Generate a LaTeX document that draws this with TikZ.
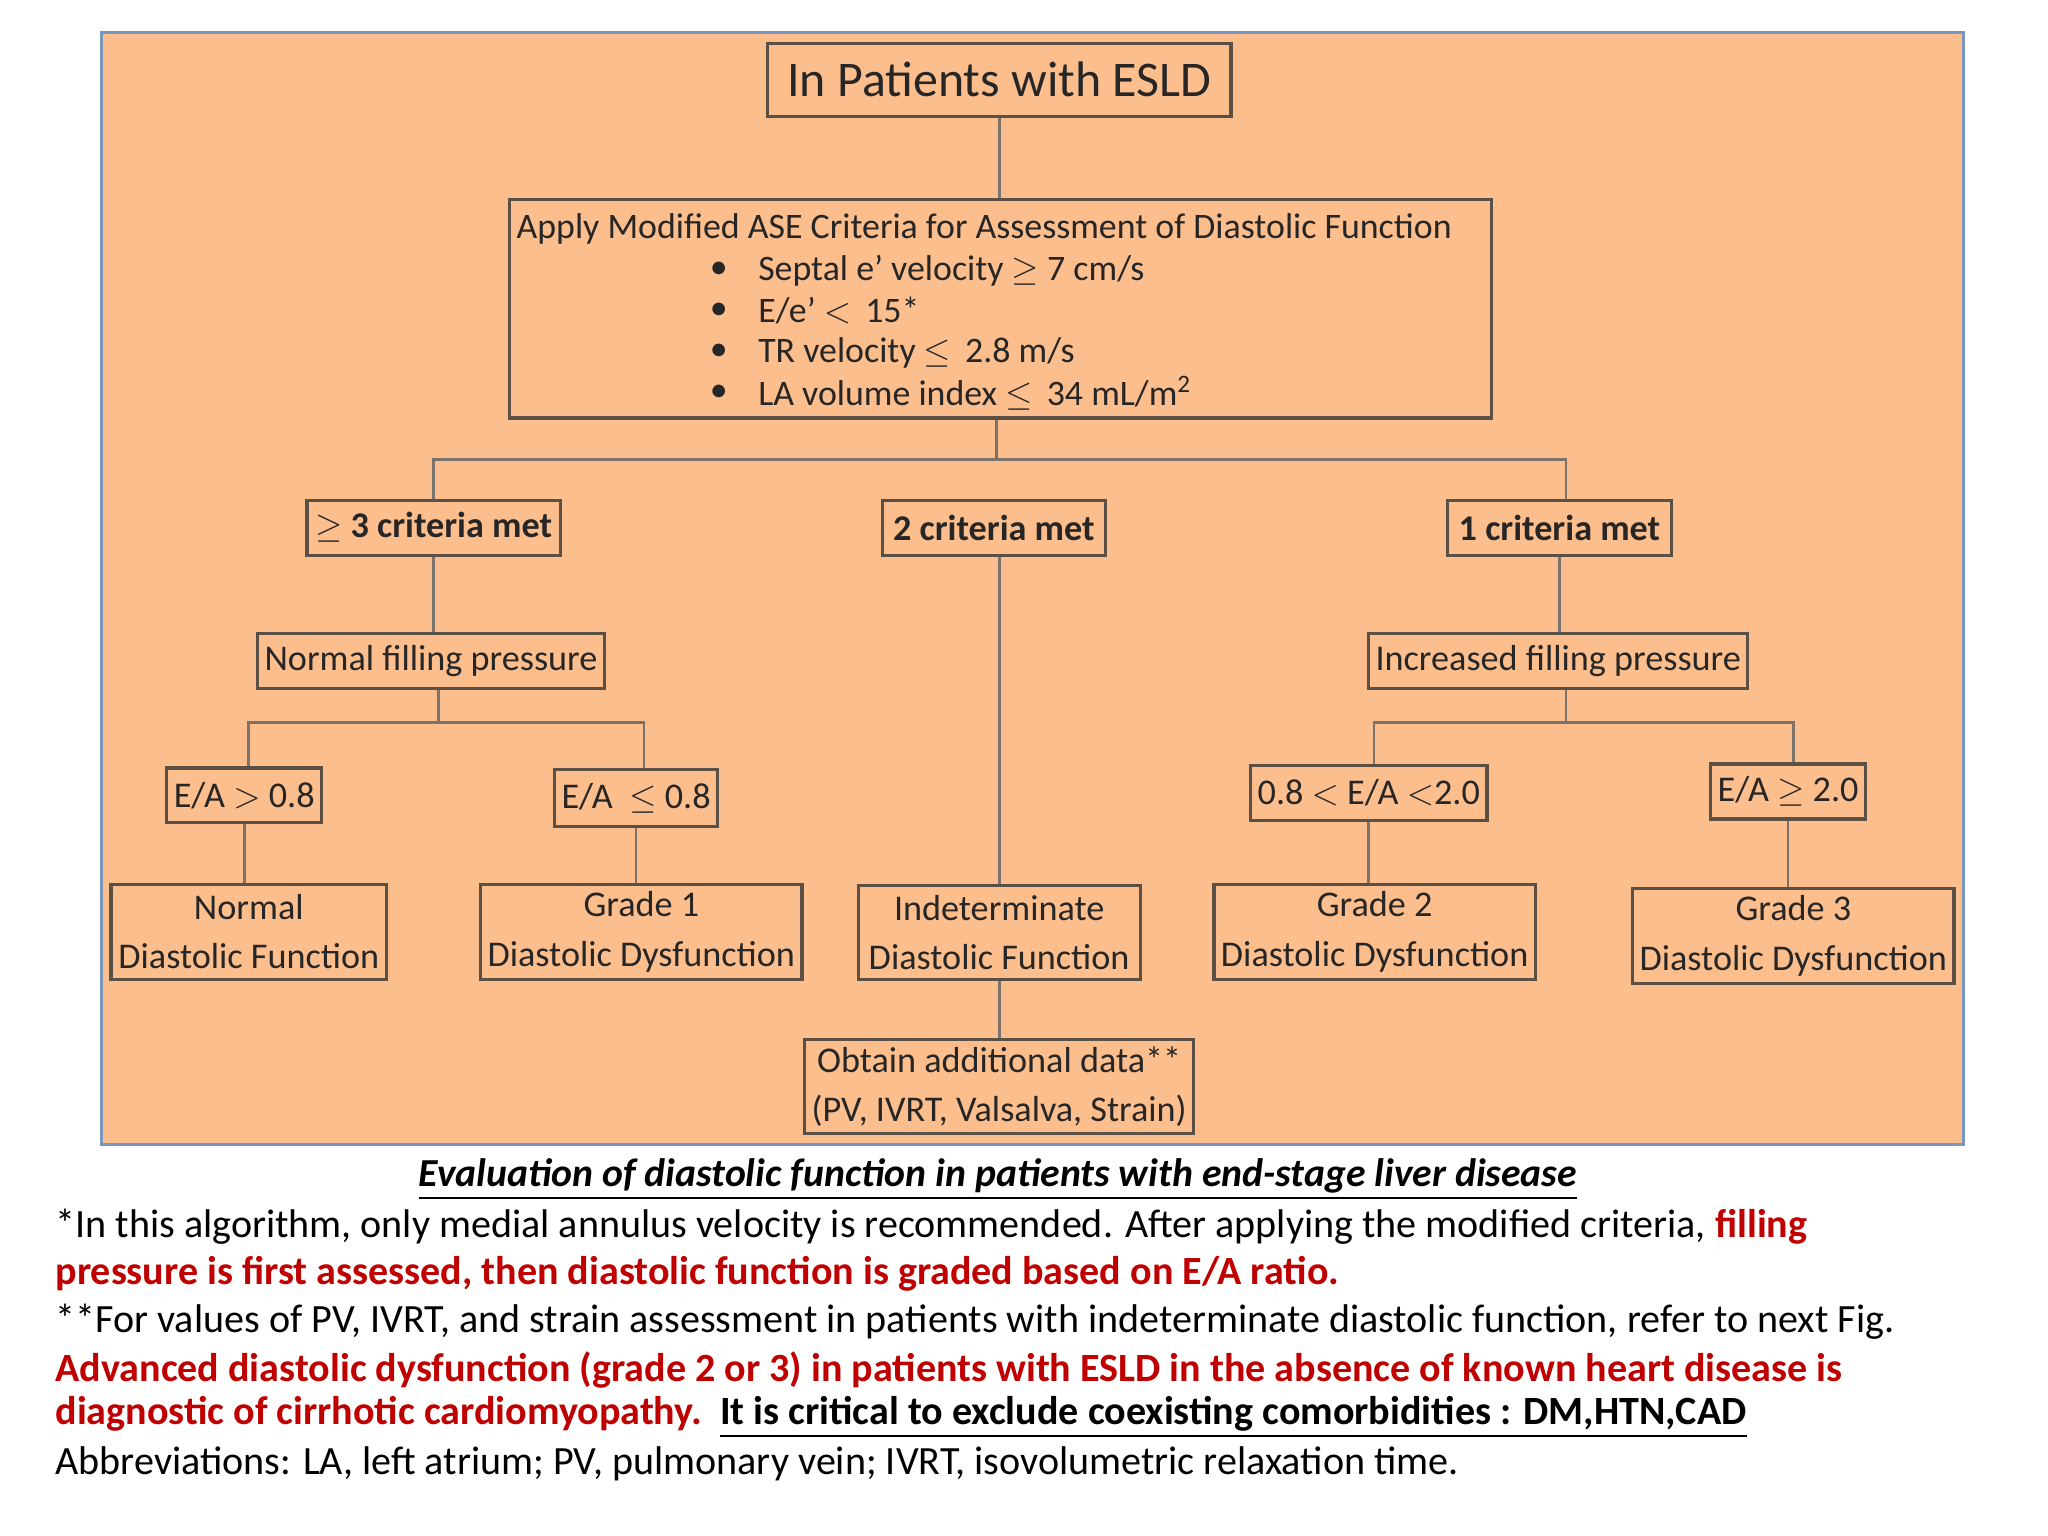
\documentclass[tikz,border=0pt]{standalone}
\usepackage{fontspec}
\setmainfont{Carlito}
\usetikzlibrary{calc}
\definecolor{peach}{RGB}{252,190,140}
\definecolor{frame}{RGB}{120,150,190}
\definecolor{boxline}{RGB}{90,80,70}
\definecolor{darkred}{RGB}{192,0,0}
\newcommand\pxl[1]{#1*0.01306cm}
\begin{document}
\begin{tikzpicture}[x=0.01306cm,y=-0.01306cm,
  box/.style={draw=boxline,line width=0.9pt,inner sep=2pt,align=center,font=\fontsize{10.3}{14}\selectfont,text=black!85},
  crit/.style={box,font=\bfseries\fontsize{10.3}{14}\selectfont},
  conn/.style={draw=boxline!80,line width=0.8pt},
  note/.style={anchor=west,inner sep=0pt,font=\fontsize{11.4}{14}\selectfont},
  asetxt/.style={anchor=west,inner sep=0pt,font=\fontsize{10.2}{13}\selectfont,text=black!85}]
\useasboundingbox (0,0) rectangle (1568,1176);
\fill[white] (0,0) rectangle (1568,1176);
\draw[frame,fill=peach,line width=0.8pt] (78,25) rectangle (1503,876);

\node[box,minimum width=\pxl{355},minimum height=\pxl{56},font=\fontsize{14.2}{17}\selectfont] (top) at (765,61) {In Patients with ESLD};
\node[box,minimum width=\pxl{752},minimum height=\pxl{167}] (ase) at (766,236.5) {};
\node[asetxt] (aseh) at (395,175) {Apply Modified ASE Criteria for Assessment of Diastolic Function};
\foreach \yy/\tt [count=\i] in {207/{Septal e’ velocity $\geq$ 7 cm/s},238/{E/e’ $<$ \,15*},270/{TR velocity $\leq$\ \,2.8 m/s},301/{LA volume index $\leq$\ \,34 mL/m\textsuperscript{2}}}{
  \node[asetxt] (b\i) at (543,\yy) {\textbullet};
  \node[asetxt] (bt\i) at (580,\yy) {\tt};
}

\node[crit,minimum width=\pxl{194},minimum height=\pxl{42}] (c3) at (332,404) {$\geq$ 3 criteria met};
\node[crit,minimum width=\pxl{171},minimum height=\pxl{42}] (c2) at (761,404) {2 criteria met};
\node[crit,minimum width=\pxl{172},minimum height=\pxl{42}] (c1) at (1194,404) {1 criteria met};

\node[box,minimum width=\pxl{265},minimum height=\pxl{42}] (nfp) at (330,506) {Normal filling pressure};
\node[box,minimum width=\pxl{290},minimum height=\pxl{42}] (ifp) at (1193,506) {Increased filling pressure};

\node[box,minimum width=\pxl{113},minimum height=\pxl{42}] (ea1) at (187,609) {E/A $>$ 0.8};
\node[box,minimum width=\pxl{120},minimum height=\pxl{44}] (ea2) at (487,611) {E/A \ $\leq$ 0.8};
\node[box,minimum width=\pxl{167},minimum height=\pxl{42}] (ea3) at (1048,607) {0.8 $<$ E/A $<$2.0};
\node[box,minimum width=\pxl{115},minimum height=\pxl{42}] (ea4) at (1369,606) {E/A $\geq$ 2.0};

\node[box,minimum width=\pxl{211},minimum height=\pxl{73}] (g0) at (190.5,713.5) {Normal\\Diastolic Function};
\node[box,minimum width=\pxl{244},minimum height=\pxl{73}] (g1) at (491,713.5) {Grade 1\\Diastolic Dysfunction};
\node[box,minimum width=\pxl{216},minimum height=\pxl{72}] (ind) at (765,714) {Indeterminate\\Diastolic Function};
\node[box,minimum width=\pxl{245},minimum height=\pxl{73}] (g2) at (1052.5,713.5) {Grade 2\\Diastolic Dysfunction};
\node[box,minimum width=\pxl{246},minimum height=\pxl{73}] (g3) at (1373,716.5) {Grade 3\\Diastolic Dysfunction};
\node[box,minimum width=\pxl{296},minimum height=\pxl{72}] (obt) at (765,832) {Obtain additional data**\\(PV, IVRT, Valsalva, Strain)};

% connectors
\coordinate (j1) at (763,352);
\coordinate (jl) at (336,553);
\coordinate (jr) at (1199,553);
\draw[conn] (top) -- (ase.north -| top);
\draw[conn] (ase.south -| j1) -- (j1);
\draw[conn] (j1) -| (c3.north);
\draw[conn] (j1) -| ([xshift=\pxl{5}]c1.north);
\draw[conn] (c2.south -| ind) -- (ind.north);
\draw[conn] (ind) -- (obt);
\draw[conn] (c3.south) -- (nfp.north -| c3);
\draw[conn] (c1.south) -- (ifp.north -| c1);
\draw[conn] (nfp.south -| jl) -- (jl);
\draw[conn] (jl) -| ([xshift=\pxl{3}]ea1.north);
\draw[conn] (jl) -| ([xshift=\pxl{6}]ea2.north);
\draw[conn] (ifp.south -| jr) -- (jr);
\draw[conn] (jr) -| ([xshift=\pxl{4}]ea3.north);
\draw[conn] (jr) -| ([xshift=\pxl{4}]ea4.north);
\draw[conn] (ea1.south) -- (g0.north -| ea1);
\draw[conn] (ea2.south) -- (g1.north -| ea2);
\draw[conn] (ea3.south) -- (g2.north -| ea3);
\draw[conn] (ea4.south) -- (g3.north -| ea4);

% caption and notes
\node[inner sep=0pt,font=\bfseries\itshape\fontsize{11.3}{14}\selectfont] (cap) at (764,903) {\underline{Evaluation of diastolic function in patients with end-stage liver disease}};
\node[note] (n1) at (42,939) {*In this algorithm, only medial annulus velocity is recommended. After applying the modified criteria, \textcolor{darkred}{\bfseries filling}};
\node[note,text=darkred,font=\bfseries\fontsize{11.4}{14}\selectfont] (n2) at (42,975) {pressure is first assessed, then diastolic function is graded based on E/A ratio.};
\node[note] (n3) at (42,1012) {**For values of PV, IVRT, and strain assessment in patients with indeterminate diastolic function, refer to next Fig.};
\node[note,text=darkred,font=\bfseries\fontsize{11.4}{14}\selectfont] (n4) at (42,1049) {Advanced diastolic dysfunction (grade 2 or 3) in patients with ESLD in the absence of known heart disease is};
\node[note,font=\bfseries\fontsize{11.4}{14}\selectfont] (n5) at (42,1085) {\textcolor{darkred}{diagnostic of cirrhotic cardiomyopathy.}\ \ \underline{It is critical to exclude coexisting comorbidities : DM,HTN,CAD}};
\node[note] (n6) at (42,1121) {Abbreviations: LA, left atrium; PV, pulmonary vein; IVRT, isovolumetric relaxation time.};
\end{tikzpicture}
\end{document}
